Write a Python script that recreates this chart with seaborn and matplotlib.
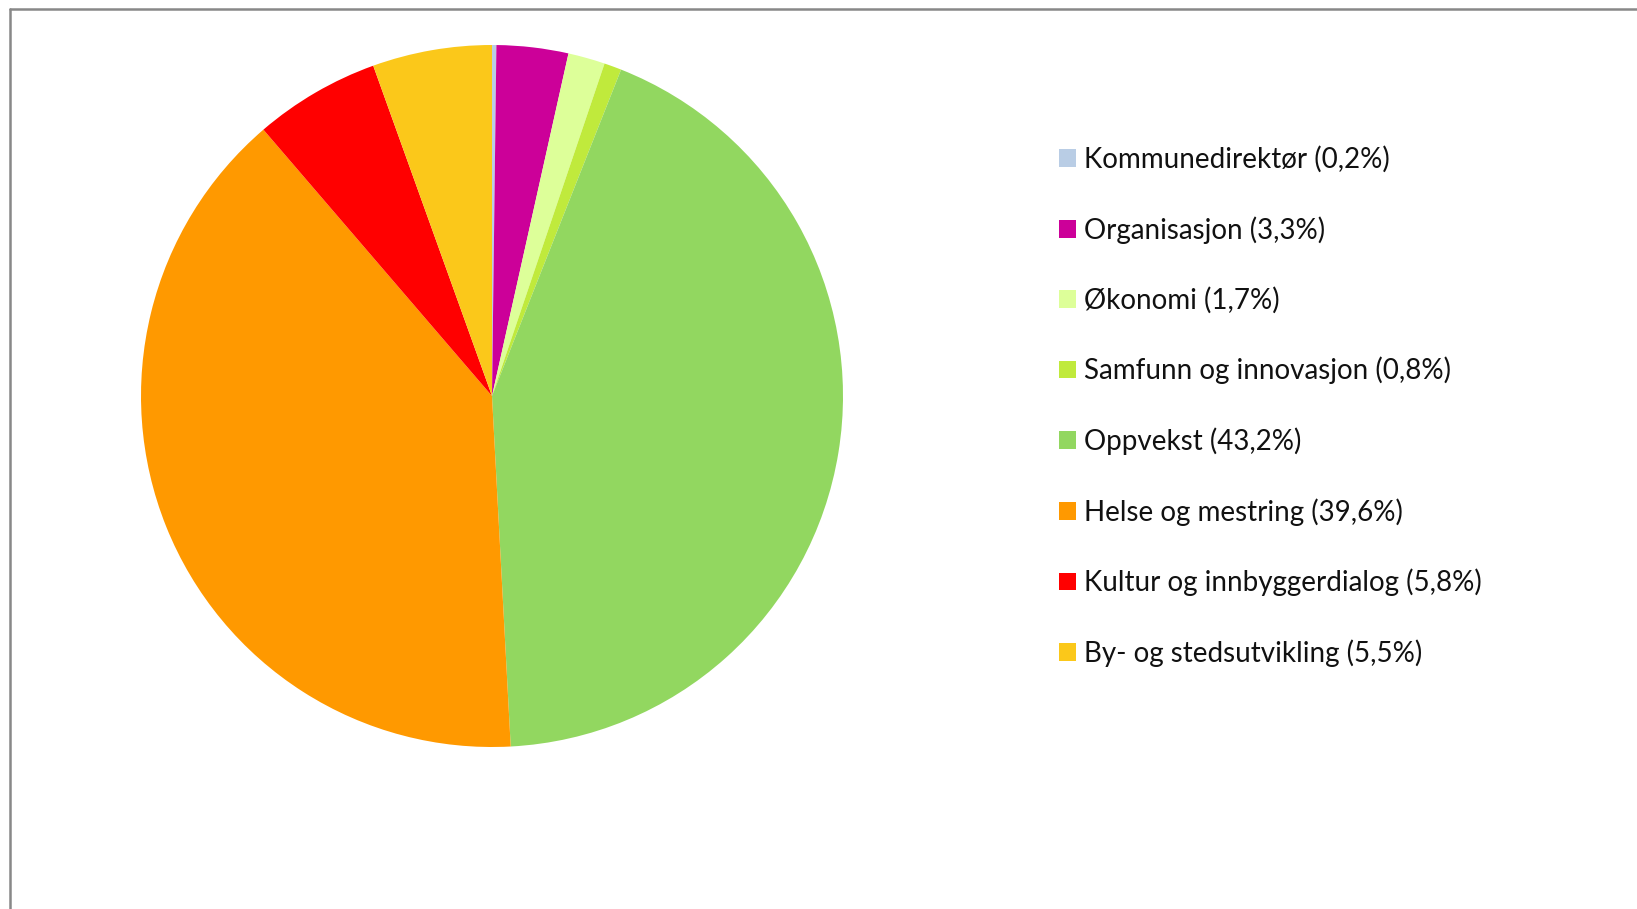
import matplotlib
matplotlib.use("Agg")
import matplotlib.pyplot as plt
import seaborn as sns
from matplotlib.patches import Patch
from matplotlib.lines import Line2D

categories = ["Kommunedirektør", "Organisasjon", "Økonomi", "Samfunn og innovasjon",
              "Oppvekst", "Helse og mestring", "Kultur og innbyggerdialog", "By- og stedsutvikling"]
values = [0.2, 3.3, 1.7, 0.8, 43.2, 39.6, 5.8, 5.5]
pct_labels = ["0,2%", "3,3%", "1,7%", "0,8%", "43,2%", "39,6%", "5,8%", "5,5%"]
colors = ["#B9CDE5", "#CC0099", "#DDFF99", "#C0EA3C", "#92D760", "#FF9900", "#FF0000", "#FBC81A"]

sns.set_theme(style="white")
plt.rcParams['font.family'] = ['Lato', 'DejaVu Sans']

W, H = 1637, 909
fig = plt.figure(figsize=(W / 100, H / 100), dpi=100)
fig.patch.set_facecolor("white")

cx, cy, r = 492, 396, 351
ax = fig.add_axes([(cx - r) / W, (H - cy - r) / H, 2 * r / W, 2 * r / H])
ax.pie(values, colors=colors, startangle=90, counterclock=False, radius=1,
       wedgeprops=dict(linewidth=0))
ax.set_xlim(-1, 1)
ax.set_ylim(-1, 1)
ax.set_aspect("equal")
ax.axis("off")

handles = [Patch(facecolor=c, edgecolor="none") for c in colors]
labels = [f"{c} ({p})" for c, p in zip(categories, pct_labels)]
leg = fig.legend(handles, labels, loc="upper left", bbox_to_anchor=(1048 / W, 1 - 135 / H),
                 frameon=False, fontsize=20, labelspacing=1.55, handlelength=0.6,
                 handleheight=0.6, handletextpad=0.3, borderaxespad=0)
for t in leg.get_texts():
    t.set_color("#111111")

# chart frame (left and top edges)
fig.add_artist(Line2D([10 / W, 10 / W], [0, 1 - 9 / H], transform=fig.transFigure,
                      color="#888888", linewidth=1.8))
fig.add_artist(Line2D([10 / W, 1], [1 - 9 / H, 1 - 9 / H], transform=fig.transFigure,
                      color="#888888", linewidth=1.8))

fig.savefig("out.png", dpi=100)
